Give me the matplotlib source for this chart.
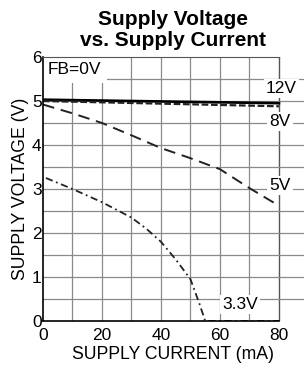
import numpy as np
import matplotlib
matplotlib.use("Agg")
import matplotlib.pyplot as plt

plt.rcParams['font.family'] = ['Liberation Sans', 'DejaVu Sans']

# curves (current in mA, voltage in V)
i_12v = [0, 80]
v_12v = [5.03, 4.95]

i_8v = [0, 20, 40, 60, 80]
v_8v = [5.00, 4.97, 4.94, 4.91, 4.88]

i_5v = [0, 10, 20, 30, 40, 50, 60, 70, 80]
v_5v = [4.92, 4.72, 4.50, 4.22, 3.93, 3.70, 3.45, 3.02, 2.62]

i_3v3 = [1, 10, 20, 30, 35, 40, 45, 50, 53, 55, 80]
v_3v3 = [3.25, 3.00, 2.70, 2.35, 2.10, 1.80, 1.40, 0.95, 0.40, 0.0, 0.0]

xticks = [0, 20, 40, 60, 80]
yticks = [0, 1, 2, 3, 4, 5, 6]

fig = plt.figure(figsize=(3.04, 3.69), dpi=100)
ax = fig.add_axes([43 / 304, 1 - 321 / 369, 1 - 43 / 304, (321 - 57) / 369])

ax.set_xlim(0, 88.5)
ax.set_ylim(0, 6)

# grid: verticals every 10 mA up to 80, horizontals every 0.5 V
grid_kw = dict(color='#8a8a8a', lw=0.9, zorder=1)
for x in np.arange(10, 80, 10):
    ax.axvline(x, **grid_kw)
ax.axvline(80, color='#555555', lw=1.0, zorder=1)
for y in np.arange(0.5, 6, 0.5):
    ax.axhline(y, **grid_kw)

ax.spines['right'].set_visible(False)
ax.spines['top'].set_bounds(0, 80)
ax.spines['bottom'].set_bounds(0, 80)
ax.spines['top'].set_color('#555555')
ax.spines['left'].set_linewidth(1.2)
ax.spines['bottom'].set_linewidth(1.2)
for s in ax.spines.values():
    s.set_zorder(5)

ax.plot(i_12v, v_12v, color='black', lw=1.9, zorder=3)
ax.plot(i_8v, v_8v, color='#222222', lw=1.6, dashes=(3, 1.2), zorder=3)
ax.plot(i_5v, v_5v, color='#222222', lw=1.4, dashes=(6, 3.5), zorder=3)
ax.plot(i_3v3, v_3v3, color='#222222', lw=1.3, dashes=(4, 2, 1, 2), zorder=3)

box = dict(facecolor='white', edgecolor='none', pad=1.5)
lab_kw = dict(fontsize=12.5, ha='center', va='center', bbox=box, zorder=4)
ax.text(1.7, 5.71, 'FB=0V', fontsize=12.5, ha='left', va='center',
        bbox=dict(facecolor='white', edgecolor='none', pad=4), zorder=4)
ax.text(80.8, 5.28, '12V', **lab_kw)
ax.text(80.3, 4.54, '8V', **lab_kw)
ax.text(80.3, 3.08, '5V', **lab_kw)
ax.text(66.8, 0.37, '3.3V', **lab_kw)

ax.set_xticks(xticks)
ax.set_yticks(yticks)
ax.tick_params(axis='both', length=0, labelsize=12.5)
ax.tick_params(axis='x', pad=5)
ax.tick_params(axis='y', pad=1)

ax.set_xlabel('SUPPLY CURRENT (mA)', fontsize=12.7, labelpad=2)
ax.set_ylabel('SUPPLY VOLTAGE (V)', fontsize=12.7, labelpad=2)

ax.set_title('Supply Voltage\nvs. Supply Current', fontsize=15, fontweight='bold',
             linespacing=1.12, pad=8)

fig.savefig('out.png', dpi=100)
